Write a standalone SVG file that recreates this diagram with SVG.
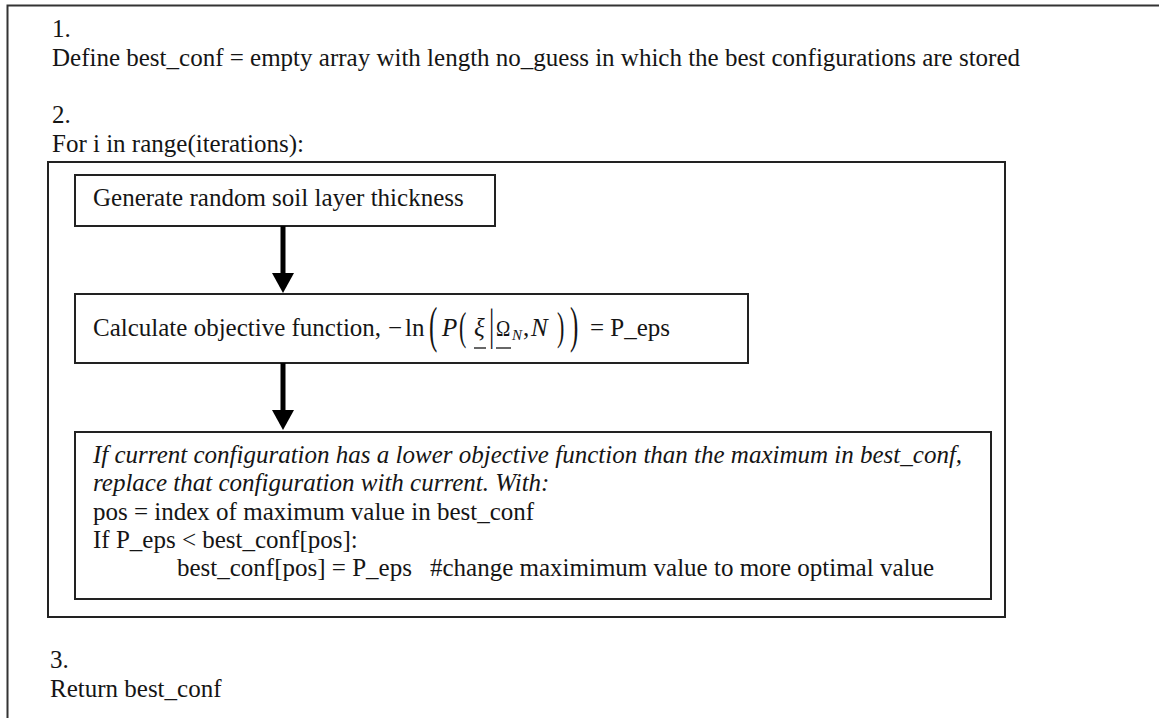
<svg xmlns="http://www.w3.org/2000/svg" width="1159" height="718" viewBox="0 0 1159 718">
<style>
  .t { font-family: "Liberation Serif", "Times New Roman", serif; font-size: 25px; fill: #151515; }
  .i { font-style: italic; }
  .box { fill: none; stroke: #222; stroke-width: 2; }
  .outer { fill: none; stroke: #333; stroke-width: 2; }
  .conn { stroke: #000; stroke-width: 5; fill: none; }
  .ul { stroke: #151515; stroke-width: 1.3; }
</style>
<defs>
  <marker id="ah" markerUnits="userSpaceOnUse" markerWidth="20" markerHeight="22" viewBox="0 0 20 22" refX="0" refY="11" orient="auto">
    <path d="M0,0 L20,11 L0,22 z" fill="#000"/>
  </marker>
</defs>
<rect width="1159" height="718" fill="#fff"/>
<path class="outer" d="M7.5,730 V5.5 H1170"/>

<g id="step1">
  <text class="t" x="52" y="37">1.</text>
  <text class="t" x="52" y="66">Define best_conf = empty array with length no_guess in which the best configurations are stored</text>
</g>

<g id="step2">
  <text class="t" x="52" y="123">2.</text>
  <text class="t" x="52" y="152">For i in range(iterations):</text>
  <rect class="box" x="48" y="162" width="957" height="455"/>
</g>

<g id="generate">
  <rect class="box" x="75" y="175" width="420" height="51"/>
  <text class="t" x="93" y="206">Generate random soil layer thickness</text>
</g>

<g id="calculate">
  <rect class="box" x="75" y="294" width="673" height="69"/>
  <text class="t" x="93" y="336">Calculate objective function,</text>
  <text class="t" x="388" y="336">−</text>
  <text class="t" x="405" y="336">ln</text>
  <text class="t" transform="translate(429,342) scale(0.5,1)" style="font-size:50px">(</text>
  <text class="t i" x="442" y="336">P</text>
  <text class="t" transform="translate(459,340) scale(0.55,1)" style="font-size:40px">(</text>
  <text class="t i" x="474" y="336">ξ</text>
  <line class="ul" x1="474" y1="348" x2="486" y2="348"/>
  <text class="t" transform="translate(489,340) scale(0.6,1)" style="font-size:44px">|</text>
  <text class="t" transform="translate(496,336) scale(0.8,1)" style="font-size:24px">Ω</text>
  <line class="ul" x1="496" y1="348" x2="511" y2="348"/>
  <text class="t i" x="512" y="340" style="font-size:15px">N</text>
  <text class="t" x="523" y="336">,</text>
  <text class="t i" x="531" y="336">N</text>
  <text class="t" transform="translate(557,340) scale(0.55,1)" style="font-size:40px">)</text>
  <text class="t" transform="translate(570,342) scale(0.5,1)" style="font-size:50px">)</text>
  <text class="t" x="590" y="336">= P_eps</text>
</g>

<g id="update">
  <rect class="box" x="75" y="432" width="916" height="167"/>
  <text class="t i" x="93" y="463">If current configuration has a lower objective function than the maximum in best_conf,</text>
  <text class="t i" x="93" y="491">replace that configuration with current. With:</text>
  <text class="t" x="93" y="520">pos = index of maximum value in best_conf</text>
  <text class="t" x="93" y="548">If P_eps &lt; best_conf[pos]:</text>
  <text class="t" x="177" y="576">best_conf[pos] = P_eps</text>
  <text class="t" x="430" y="576">#change maximimum value to more optimal value</text>
</g>

<g id="step3">
  <text class="t" x="50" y="668">3.</text>
  <text class="t" x="50" y="697">Return best_conf</text>
</g>

<g id="connectors">
  <line class="conn" x1="283" y1="226" x2="283" y2="273" marker-end="url(#ah)"/>
  <line class="conn" x1="283" y1="363" x2="283" y2="410" marker-end="url(#ah)"/>
</g>
</svg>
